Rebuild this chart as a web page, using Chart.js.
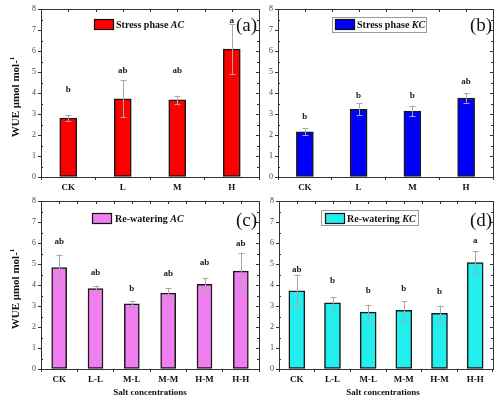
<!DOCTYPE html>
<html><head><meta charset="utf-8">
<script src="https://cdn.jsdelivr.net/npm/chart.js@4"></script>
<style>
html,body{margin:0;padding:0;background:#fff;width:500px;height:402px;overflow:hidden}
canvas{position:absolute;left:0;top:0}
</style></head>
<body>
<canvas id="ca" width="500" height="402"></canvas>
<canvas id="cb" width="500" height="402"></canvas>
<canvas id="cc" width="500" height="402"></canvas>
<canvas id="cd" width="500" height="402"></canvas>
<script>
// ---------- data ----------
const stressCategories = ['CK', 'L', 'M', 'H'];
const rewaterCategories = ['CK', 'L-L', 'M-L', 'M-M', 'H-M', 'H-H'];
const yTickValues = [0, 1, 2, 3, 4, 5, 6, 7, 8];

const stressAC = [2.80, 3.72, 3.67, 6.09];
const stressACErr = [0.13, 0.88, 0.21, 1.18];
const stressACLetters = ['b', 'ab', 'ab', 'a'];
const stressACLetterY = [4.17, 5.08, 5.08, 7.45];

const stressKC = [2.15, 3.22, 3.14, 3.76];
const stressKCErr = [0.16, 0.29, 0.25, 0.22];
const stressKCLetters = ['b', 'b', 'b', 'ab'];
const stressKCLetterY = [2.87, 3.89, 3.87, 4.54];

const rewaterAC = [4.83, 3.83, 3.10, 3.61, 4.03, 4.66];
const rewaterACErr = [0.62, 0.14, 0.16, 0.26, 0.30, 0.87];
const rewaterACLetters = ['ab', 'ab', 'b', 'ab', 'ab', 'ab'];
const rewaterACLetterY = [6.06, 4.61, 3.83, 4.54, 5.04, 5.98];

const rewaterKC = [3.72, 3.15, 2.71, 2.79, 2.65, 5.07];
const rewaterKCErr = [0.78, 0.28, 0.36, 0.44, 0.37, 0.55];
const rewaterKCLetters = ['ab', 'b', 'b', 'b', 'b', 'a'];
const rewaterKCLetterY = [4.72, 4.19, 3.73, 3.82, 3.68, 6.10];

// ---------- drawing helpers ----------
const SERIF = "'Liberation Serif','Times New Roman',serif";

const panelPlugin = {
  id: 'panelDecor',
  afterDatasetsDraw(chart) {
    const o = chart.options.plugins.panelDecor;
    const ctx = chart.ctx;
    const ca = chart.chartArea;
    const ys = chart.scales.y, xs = chart.scales.x;
    const meta = chart.getDatasetMeta(0);
    ctx.save();
    // error bars
    ctx.strokeStyle = '#a8a8a8';
    ctx.lineWidth = 1;
    meta.data.forEach((el, i) => {
      const v = o.values[i], e = o.errors[i];
      const x = Math.round(el.x) + 0.5;
      const yt = ys.getPixelForValue(v + e), yb = ys.getPixelForValue(v - e);
      ctx.beginPath();
      ctx.moveTo(x, yt); ctx.lineTo(x, yb);
      ctx.moveTo(x - 3, Math.round(yt) + 0.5); ctx.lineTo(x + 3, Math.round(yt) + 0.5);
      ctx.moveTo(x - 3, Math.round(yb) + 0.5); ctx.lineTo(x + 3, Math.round(yb) + 0.5);
      ctx.stroke();
    });
    // significance letters
    ctx.fillStyle = '#222';
    ctx.font = 'bold 9px ' + SERIF;
    ctx.textAlign = 'center';
    ctx.textBaseline = 'middle';
    meta.data.forEach((el, i) => {
      ctx.fillText(o.letters[i], el.x, ys.getPixelForValue(o.letterY[i]));
    });
    // frame
    ctx.strokeStyle = '#333';
    ctx.lineWidth = 1;
    ctx.strokeRect(Math.round(ca.left) + 0.5, Math.round(ca.top) + 0.5,
      Math.round(ca.right - ca.left), Math.round(ca.bottom - ca.top));
    // inward ticks top & right, minor ticks left
    ctx.beginPath();
    const n = o.categories.length;
    for (let k = 1; k < 2 * n; k++) {
      const px = Math.round(ca.left + (ca.right - ca.left) * k / (2 * n)) + 0.5;
      ctx.moveTo(px, ca.top); ctx.lineTo(px, ca.top + 3);
    }
    yTickValues.forEach(t => {
      const py = Math.round(ys.getPixelForValue(t)) + 0.5;
      ctx.moveTo(ca.right, py); ctx.lineTo(ca.right - 3, py);
      if (t < 8) {
        const pm = Math.round(ys.getPixelForValue(t + 0.5)) + 0.5;
        ctx.moveTo(ca.left, pm); ctx.lineTo(ca.left + 2, pm);
        ctx.moveTo(ca.right, pm); ctx.lineTo(ca.right - 2, pm);
      }
    });
    ctx.stroke();
    // legend
    const L = o.legend;
    if (L.frame) {
      ctx.strokeStyle = '#9a9a9a';
      ctx.strokeRect(ca.left + L.frame[0] + 0.5, ca.top + L.frame[1] + 0.5, L.frame[2], L.frame[3]);
    }
    ctx.fillStyle = o.color;
    ctx.fillRect(ca.left + L.rx, ca.top + L.ry, 19, 10);
    ctx.strokeStyle = '#111';
    ctx.lineWidth = 1.2;
    ctx.strokeRect(ca.left + L.rx + 0.5, ca.top + L.ry + 0.5, 19, 10);
    ctx.fillStyle = '#111';
    ctx.textAlign = 'left';
    ctx.textBaseline = 'alphabetic';
    ctx.font = 'bold 10px ' + SERIF;
    const tx = ca.left + L.tx, ty = ca.top + L.ry + 9;
    ctx.fillText(o.legendText, tx, ty);
    const w = ctx.measureText(o.legendText).width;
    ctx.font = 'italic bold 10px ' + SERIF;
    ctx.fillText(o.legendItalic, tx + w, ty);
    // panel label
    ctx.font = '19px ' + SERIF;
    ctx.textBaseline = 'middle';
    ctx.fillText(o.label, ca.right - 23, ca.top + o.labelDy);
    // axis titles
    if (o.yTitle) {
      ctx.save();
      ctx.translate(16, (ca.top + ca.bottom) / 2 + 4);
      ctx.rotate(-Math.PI / 2);
      ctx.font = 'bold 11px ' + SERIF;
      const main = 'WUE \u03bcmol mol-';
      const mw = ctx.measureText(main).width;
      ctx.font = 'bold 7px ' + SERIF;
      const sw = ctx.measureText('1').width;
      const start = -(mw + sw) / 2;
      ctx.font = 'bold 11px ' + SERIF;
      ctx.textAlign = 'left';
      ctx.textBaseline = 'middle';
      ctx.fillText(main, start, 0);
      ctx.font = 'bold 7px ' + SERIF;
      ctx.fillText('1', start + mw, -4);
      ctx.restore();
    }
    if (o.xTitle) {
      ctx.font = 'bold 9px ' + SERIF;
      ctx.textAlign = 'center';
      ctx.textBaseline = 'middle';
      ctx.fillText('Salt concentrations', (ca.left + ca.right) / 2 + o.xTitleDx, 393);
    }
    ctx.restore();
  }
};

function makePanel(id, cfg) {
  const a = cfg.area;
  new Chart(document.getElementById(id), {
    type: 'bar',
    data: {
      labels: cfg.categories,
      datasets: [{
        data: cfg.values,
        backgroundColor: cfg.color,
        borderColor: '#1a1a1a',
        borderWidth: 1.5,
        borderSkipped: false,
        barThickness: cfg.barThickness
      }]
    },
    options: {
      responsive: false,
      animation: false,
      events: [],
      layout: { padding: { left: a.l - 40, right: 500 - a.r, top: a.t, bottom: 402 - a.b - 20 } },
      scales: {
        x: {
          afterFit(s) { s.height = 20; },
          border: { display: true, color: '#333', width: 1 },
          grid: { display: true, drawOnChartArea: false, offset: true, tickLength: 3, color: '#333' },
          ticks: { color: '#111', padding: 2, font: { family: SERIF, size: 9, weight: 'bold' }, maxRotation: 0, autoSkip: false }
        },
        y: {
          min: 0, max: 8,
          afterFit(s) { s.width = 40; },
          afterBuildTicks(s) { s.ticks = yTickValues.map(v => ({ value: v })); },
          border: { display: true, color: '#333', width: 1 },
          grid: { display: true, drawOnChartArea: false, tickLength: 3, color: '#333' },
          ticks: { color: '#444', padding: 2, font: { family: SERIF, size: 8 } }
        }
      },
      plugins: {
        legend: { display: false },
        tooltip: { enabled: false },
        panelDecor: cfg
      }
    },
    plugins: [panelPlugin]
  });
}

makePanel('ca', {
  area: { l: 41, r: 259, t: 9, b: 177 }, categories: stressCategories,
  values: stressAC, errors: stressACErr, letters: stressACLetters, letterY: stressACLetterY,
  color: '#ff0000', barThickness: 17, legendText: 'Stress phase ', legendItalic: 'AC',
  legend: { rx: 53, ry: 10, tx: 75, frame: null }, label: '(a)', labelDy: 17, yTitle: true, xTitle: false
});
makePanel('cb', {
  area: { l: 278, r: 493, t: 9, b: 177 }, categories: stressCategories,
  values: stressKC, errors: stressKCErr, letters: stressKCLetters, letterY: stressKCLetterY,
  color: '#0000ff', barThickness: 17, legendText: 'Stress phase ', legendItalic: 'KC',
  legend: { rx: 57, ry: 10, tx: 79, frame: [54, 8, 94, 15] }, label: '(b)', labelDy: 17, yTitle: false, xTitle: false
});
makePanel('cc', {
  area: { l: 41, r: 259, t: 201, b: 369 }, categories: rewaterCategories,
  values: rewaterAC, errors: rewaterACErr, letters: rewaterACLetters, letterY: rewaterACLetterY,
  color: '#f07ef0', barThickness: 15, legendText: 'Re-watering ', legendItalic: 'AC',
  legend: { rx: 51, ry: 12, tx: 74, frame: null }, label: '(c)', labelDy: 20, yTitle: true, xTitle: true, xTitleDx: 0
});
makePanel('cd', {
  area: { l: 279, r: 493, t: 201, b: 369 }, categories: rewaterCategories,
  values: rewaterKC, errors: rewaterKCErr, letters: rewaterKCLetters, letterY: rewaterKCLetterY,
  color: '#22eeee', barThickness: 16, legendText: 'Re-watering ', legendItalic: 'KC',
  legend: { rx: 46, ry: 12, tx: 68, frame: [42, 9, 97, 15] }, label: '(d)', labelDy: 20, yTitle: false, xTitle: true, xTitleDx: -3
});
</script>
</body></html>
